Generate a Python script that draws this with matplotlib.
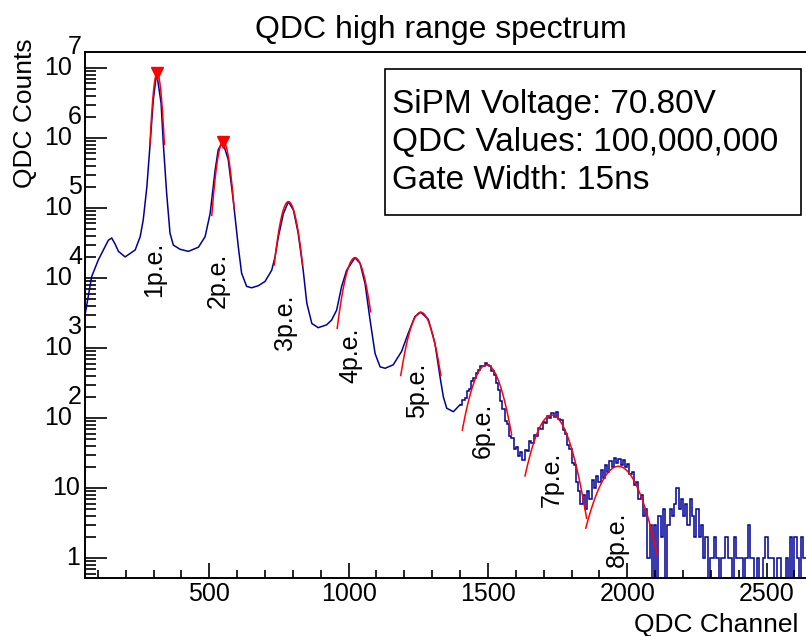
import numpy as np
import matplotlib
matplotlib.use("Agg")
import matplotlib.pyplot as plt
from matplotlib.patches import Rectangle
from matplotlib.ticker import FixedLocator, NullFormatter, MultipleLocator

plt.rcParams['font.family'] = ['Liberation Sans', 'DejaVu Sans']

# smooth (high statistics) part of the spectrum: channel, counts
ch_smooth = [54, 78, 102, 126, 138, 150, 162, 174, 198, 234, 252, 263, 276, 287,
             299, 311, 327, 335, 347, 359, 371, 395, 425, 461, 485, 503, 521, 532,
             548, 568, 586, 604, 616, 634, 652, 676, 700, 724, 736, 748, 766, 784,
             802, 819, 837, 850, 868, 891, 921, 939, 957, 975, 993, 1023, 1041, 1059,
             1077, 1095, 1113, 1131, 1160, 1190, 1214, 1238, 1259, 1286, 1310, 1328,
             1340, 1352, 1376, 1400]
cnt_smooth = [2950, 10500, 18200, 28000, 34700, 37200, 30500, 24000, 20000, 25100,
              38900, 67600, 200000, 759000, 3470000, 8510000, 3160000, 832000,
              162000, 43700, 29500, 25700, 24000, 27500, 38900, 83200, 347000,
              676000, 891000, 490000, 129000, 28200, 11700, 7590, 7240, 7760, 8910,
              12900, 20000, 38900, 83200, 123000, 93300, 43700, 12900, 4370, 2240,
              1950, 2140, 2510, 3470, 7590, 12900, 19500, 16200, 8320, 2510, 832,
              537, 513, 575, 891, 1620, 2820, 3240, 2570, 1150, 389, 200, 138, 123,
              155]

# low statistics part: 8-channel bins starting at channel 1400
bin_start = 1400
bin_width = 8
cnt_bins = [152, 181, 196, 241, 262, 333, 371, 446, 478, 547, 561, 603, 579, 561,
            472, 409, 311, 252, 173, 136, 91, 82, 55, 51, 36, 38, 29, 33, 25, 35,
            34, 47, 44, 58, 55, 72, 70, 89, 86, 108, 101, 118, 104, 121, 97, 94,
            68, 59, 41, 36, 23, 21, 12, 9, 6, 8, 5, 9, 7, 13, 10, 15, 12, 18, 14,
            21, 17, 24, 20, 27, 23, 26, 21, 25, 20, 22, 16, 17, 11, 12, 7, 8, 4,
            5, 1, 3, 0,
            3, 0, 4, 2, 5, 0, 3, 5, 4, 6, 10, 5, 7, 4, 6, 3, 7, 4, 2, 5, 2, 3, 1,
            2, 0, 1, 1, 2, 1, 0, 1, 1, 2, 1, 1, 0, 2, 1, 1, 1, 0, 1, 3, 1, 1, 0,
            1, 0, 0, 1, 2, 1, 1, 1, 0, 1, 1, 0, 0, 1, 0, 2, 0, 2, 1, 0, 2, 1]

# gaussian fits of the p.e. peaks
fit_mean = [313, 550, 784, 1023, 1259, 1495, 1729, 1968]
fit_sigma = [12, 18.6, 25, 29.7, 35.3, 42, 48, 58]
fit_amp = [8.5e6, 8.9e5, 1.23e5, 1.95e4, 3240, 575, 110, 20.4]
fit_lo = [287, 509, 733, 959, 1187, 1408, 1633, 1851]
fit_hi = [339, 589, 835, 1079, 1331, 1585, 1854, 2108]

# found peaks (markers)
peak_x = [313, 550]
peak_y = [8.5e6, 8.9e5]

# p.e. labels
pe_labels = ["1p.e.", "2p.e.", "3p.e.", "4p.e.", "5p.e.", "6p.e.", "7p.e.", "8p.e."]
pe_x = [302, 532, 772, 1008, 1245, 1482, 1730, 1963]
pe_y = [5370, 3720, 935, 316, 100, 27, 5.4, 0.74]

info_lines = ["SiPM Voltage: 70.80V", "QDC Values: 100,000,000", "Gate Width: 15ns"]

W, H = 806, 636
fig = plt.figure(figsize=(W / 100, H / 100), dpi=100)
ax = fig.add_axes([85 / W, 1 - 578 / H, (807 - 85) / W, (578 - 52) / H])

ax.plot(ch_smooth, cnt_smooth, color='#000099', lw=1.1)
edges = bin_start + bin_width * np.arange(len(cnt_bins) + 1)
ax.stairs(cnt_bins, edges, color='#000099', lw=1.1, baseline=None)

for mu, sg, a, lo, hi in zip(fit_mean, fit_sigma, fit_amp, fit_lo, fit_hi):
    xx = np.linspace(lo, hi, 200)
    ax.plot(xx, a * np.exp(-0.5 * ((xx - mu) / sg) ** 2), color='#ff0000', lw=1.1)

ax.plot(peak_x, peak_y, linestyle='none', marker='v', color='#ff0000', markersize=9)

for lab, x, y in zip(pe_labels, pe_x, pe_y):
    ax.text(x, y, lab, rotation=90, ha='center', va='bottom', fontsize=18)

ax.set_yscale('log', nonpositive='clip')
ax.set_xlim(54, 2645)
ax.set_ylim(0.518, 1.69e7)

# ROOT-like axes
for s in ax.spines.values():
    s.set_linewidth(1.4)
ax.xaxis.set_major_locator(MultipleLocator(500))
ax.xaxis.set_minor_locator(MultipleLocator(100))
ax.tick_params(axis='x', which='major', direction='in', length=11, width=1.2,
               labelsize=18, pad=3, top=False)
ax.tick_params(axis='x', which='minor', direction='in', length=6, width=1.2, top=False)
decades = [10.0 ** n for n in range(0, 8)]
ax.yaxis.set_major_locator(FixedLocator(decades))
ax.yaxis.set_minor_locator(FixedLocator([m * 10.0 ** n for n in range(-1, 8) for m in range(2, 10)]))
ax.yaxis.set_major_formatter(NullFormatter())
ax.yaxis.set_minor_formatter(NullFormatter())
ax.tick_params(axis='y', which='major', direction='in', length=16, width=1.2, right=False)
ax.tick_params(axis='y', which='minor', direction='in', length=8, width=1.2, right=False)
ax.set_xticklabels([str(int(t)) if t > 0 else '' for t in ax.get_xticks()])

for n, v in enumerate(decades):
    if n == 0:
        ax.annotate("1", xy=(0, v), xycoords=('axes fraction', 'data'), xytext=(-5, 0),
                    textcoords='offset pixels', ha='right', va='center', fontsize=18)
    elif n == 1:
        ax.annotate("10", xy=(0, v), xycoords=('axes fraction', 'data'), xytext=(-5, 0),
                    textcoords='offset pixels', ha='right', va='center', fontsize=18)
    else:
        ax.annotate("10", xy=(0, v), xycoords=('axes fraction', 'data'), xytext=(-13, 0),
                    textcoords='offset pixels', ha='right', va='center', fontsize=18)
        ax.annotate(str(n), xy=(0, v), xycoords=('axes fraction', 'data'), xytext=(-17, 21),
                    textcoords='offset pixels', ha='left', va='center', fontsize=18)

fig.text(441 / W, 1 - 38 / H, "QDC high range spectrum", ha='center', va='baseline', fontsize=23)
fig.text(25 / W, 1 - 38 / H, "QDC Counts", rotation=90, ha='center', va='top', fontsize=19)
fig.text(798 / W, 1 - 632 / H, "QDC Channel", ha='right', va='baseline', fontsize=19)

fig.patches.append(Rectangle((385 / W, 1 - 215 / H), (801 - 385) / W, (215 - 69) / H,
                             transform=fig.transFigure, facecolor='white',
                             edgecolor='black', lw=1.2))
for i, line in enumerate(info_lines):
    fig.text(392 / W, 1 - (113 + 38 * i) / H, line, ha='left', va='baseline', fontsize=24)

fig.savefig("out.png", dpi=100)
